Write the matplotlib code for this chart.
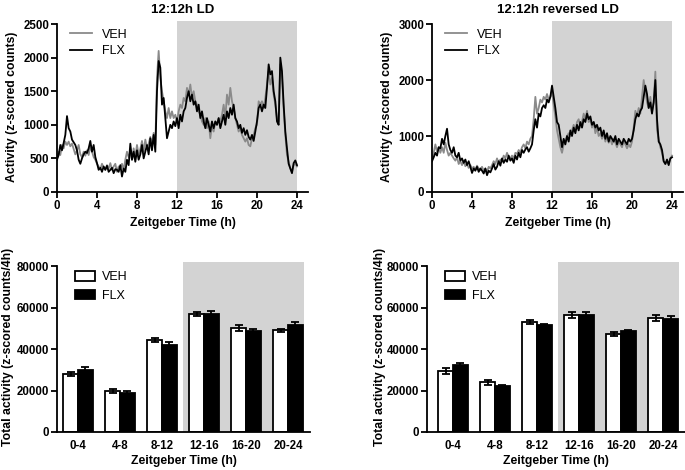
import numpy as np
import matplotlib.pyplot as plt

plt.rcParams['font.family'] = ['Liberation Sans', 'DejaVu Sans']

# time of day (h), 10-min bins
zt = np.arange(145) / 6.0

# 12:12h LD activity, one row per hour
ld_flx = [480, 550, 700, 620, 730, 850,
          1130, 950, 900, 780, 740, 700,
          620, 480, 420, 500, 560, 600,
          580, 650, 760, 600, 700, 520,
          430, 330, 360, 300, 380, 330,
          390, 300, 330, 360, 280, 340,
          330, 300, 400, 230, 350, 300,
          480, 400, 720, 480, 600, 450,
          620, 480, 560, 700, 500, 600,
          700, 560, 800, 620, 850, 600,
          1500, 1950, 1850, 1300, 1400, 1100,
          800, 900, 1000, 950, 1050, 980,
          1100, 950, 1150, 1050, 1200, 1250,
          1400, 1500, 1350, 1450, 1300, 1350,
          1200, 1300, 1100, 1200, 1050, 950,
          1100, 1000, 900, 1050, 950, 1050,
          1000, 1100, 950, 1050, 1150, 1000,
          1200, 1100, 1250, 1150, 1300, 1100,
          1050, 950, 1000, 880, 950, 850,
          920, 820, 780, 850, 760, 900,
          1050, 1250, 1300, 1200, 1300, 1250,
          1550, 1900, 1750, 1800, 1500, 1350,
          1050, 1000, 2000, 1800, 1300, 900,
          650, 420, 350, 280, 430, 470,
          400]
ld_veh = [500, 600, 550, 700, 650, 750,
          700, 750, 680, 720, 640, 560,
          620, 700, 560, 520, 600, 540,
          620, 550, 680, 600, 520, 480,
          420, 380, 340, 420, 360, 330,
          400, 350, 430, 330, 380, 420,
          300, 380, 350, 420, 330, 480,
          600, 520, 580, 480, 650, 520,
          700, 560, 640, 760, 600, 780,
          650, 720, 820, 700, 880, 700,
          1700, 2100, 1700, 1500, 1350, 1200,
          1100, 1250, 1100, 1200, 1100, 1150,
          1050, 1200, 1300, 1250, 1400, 1350,
          1550, 1450, 1600, 1400, 1500, 1350,
          1300, 1200, 1150, 1050, 1000, 1100,
          950, 1050, 800, 1000, 900, 1050,
          1000, 1100, 1050, 1150, 1300, 1100,
          1450, 1300, 1550, 1350, 1250, 1100,
          1000, 900, 950, 850, 800, 750,
          800, 700, 680, 800, 850, 950,
          1000, 1350, 1300, 1350, 1250, 1400,
          1600, 1800, 1600, 1700, 1450, 1300,
          1100, 1050, 1900, 1700, 1250, 850,
          550, 450, 350, 300, 400, 420,
          380]

# 12:12h reversed LD activity
rev_flx = [550, 620, 700, 650, 800, 780,
           950, 850, 1000, 1130, 850, 750,
           700, 800, 650, 620, 700, 560,
           600, 520, 580, 480, 550, 450,
           340, 420, 380, 450, 360, 420,
           380, 330, 420, 300, 380, 350,
           420, 500, 400, 450, 550, 470,
           600, 520, 580, 540, 650, 560,
           600, 520, 650, 580, 700, 620,
           750, 700, 760, 800, 720, 780,
           850, 1100, 1300, 1150, 1400, 1350,
           1500, 1550, 1500, 1650, 1600, 1700,
           1900, 1700, 1500, 1250, 1200, 1000,
           800, 950, 850, 1000, 900, 1100,
           1000, 1150, 1050, 1200, 1100, 1250,
           1150, 1300, 1250, 1400, 1300, 1350,
           1200, 1250, 1150, 1200, 1100, 1150,
           1000, 1100, 950, 1050, 900, 1000,
           950, 900, 1000, 850, 950, 900,
           850, 950, 900, 850, 950, 900,
           950, 1100, 1300, 1400, 1350, 1450,
           1500, 1700, 1900, 1750, 1500, 1600,
           1400, 1600, 2000, 1300, 900, 850,
           750, 550, 500, 580, 480, 600,
           620]
rev_veh = [600, 700, 850, 720, 800, 700,
           800, 700, 880, 750, 650, 700,
           650, 600, 560, 620, 500, 550,
           480, 550, 460, 500, 430, 480,
           420, 450, 400, 470, 420, 390,
           450, 380, 420, 360, 450, 420,
           480, 550, 500, 600, 520, 580,
           550, 650, 600, 700, 620, 600,
           650, 600, 700, 680, 750, 700,
           800, 850, 780, 900, 850, 950,
           1000, 1300, 1700, 1400, 1500, 1650,
           1600, 1700, 1650, 1750, 1650, 1700,
           1800, 1550, 1350, 1100, 950, 800,
           700, 850, 900, 1000, 1050, 1000,
           1100, 1200, 1100, 1250, 1300, 1150,
           1250, 1400, 1300, 1450, 1250, 1300,
           1150, 1250, 1050, 1150, 1000, 1050,
           950, 1050, 900, 1000, 880, 950,
           850, 950, 880, 800, 900, 850,
           800, 900, 850, 780, 850, 800,
           900, 1150, 1450, 1350, 1500, 1400,
           1700, 2000, 1800, 1600, 1500, 1700,
           1450, 1600, 2150, 1100, 950, 800,
           700, 550, 500, 550, 500, 600,
           650]

# totals per 4 h bin
bins = ['0-4', '4-8', '8-12', '12-16', '16-20', '20-24']
ld_veh_tot = [28000, 19700, 44200, 57000, 50000, 49000]
ld_veh_err = [1000, 1000, 1000, 1000, 1500, 900]
ld_flx_tot = [30000, 19000, 42000, 57000, 48800, 51800]
ld_flx_err = [1400, 600, 1200, 1200, 800, 1300]
rev_veh_tot = [29500, 23900, 53200, 56500, 47300, 54800]
rev_veh_err = [1400, 1000, 1000, 1600, 1000, 1500]
rev_flx_tot = [32500, 22300, 51400, 56500, 48500, 54700]
rev_flx_err = [900, 600, 900, 1200, 600, 1300]

SHADE = '#d3d3d3'
GRAY = '#8a8a8a'


def style_axes(ax, label_x):
    for s in ['top', 'right']:
        ax.spines[s].set_visible(False)
    for s in ['left', 'bottom']:
        ax.spines[s].set_linewidth(1.3)
    ax.tick_params(direction='out', length=4, width=1.3, labelsize=8.3, pad=1.5)
    for lab in ax.get_xticklabels() + ax.get_yticklabels():
        lab.set_fontweight('bold')
    ax.yaxis.set_label_coords(label_x, 0.5)


def line_panel(ax, veh, flx, ymax, ystep, title, label_x):
    ax.axvspan(12, 24, color=SHADE, lw=0, zorder=0)
    ax.plot(zt, veh, color=GRAY, lw=1.3, label='VEH', zorder=2)
    ax.plot(zt, flx, color='black', lw=1.3, label='FLX', zorder=3)
    ax.set_xlim(0, 25.1)
    ax.set_ylim(0, ymax * 1.018)
    ax.spines['left'].set_bounds(0, ymax)
    ax.set_xticks(range(0, 25, 4))
    ax.set_yticks(range(0, ymax + 1, ystep))
    ax.set_xlabel('Zeitgeber Time (h)', fontsize=8.8, fontweight='bold', labelpad=4)
    ax.set_ylabel('Activity (z-scored counts)', fontsize=8.8, fontweight='bold')
    ax.set_title(title, fontsize=9.5, fontweight='bold', pad=6)
    ax.legend(loc='upper left', bbox_to_anchor=(0.02, 1.0), frameon=False, fontsize=9,
              handlelength=1.8, handletextpad=0.8, labelspacing=0.35, borderaxespad=0.2)
    style_axes(ax, label_x)


def bar_panel(ax, veh, veh_err, flx, flx_err, xleft, label_x):
    x = np.arange(len(bins))
    w = 0.35
    ax.axvspan(2.5, 5.38, ymax=1.0, color=SHADE, lw=0, zorder=0)
    ekw = dict(ecolor='black', elinewidth=1.3, capsize=3, capthick=1.3)
    ax.bar(x - w / 2, veh, w, yerr=veh_err, color='white', edgecolor='black', lw=1.3,
           label='VEH', error_kw=ekw, zorder=2)
    ax.bar(x + w / 2, flx, w, yerr=flx_err, color='black', edgecolor='black', lw=1.3,
           label='FLX', error_kw=ekw, zorder=2)
    ax.set_xlim(xleft, 5.52)
    ax.set_ylim(0, 82000)
    ax.spines['left'].set_bounds(0, 80000)
    ax.set_xticks(x)
    ax.set_xticklabels(bins)
    ax.set_yticks(range(0, 80001, 20000))
    ax.set_xlabel('Zeitgeber Time (h)', fontsize=8.8, fontweight='bold', labelpad=2)
    ax.set_ylabel('Total activity (z-scored counts/4h)', fontsize=8.8, fontweight='bold')
    ax.legend(loc='upper left', bbox_to_anchor=(0.04, 0.99), frameon=False, fontsize=9,
              handlelength=1.6, handleheight=0.8, handletextpad=0.6, labelspacing=0.5,
              borderaxespad=0.2)
    style_axes(ax, label_x)
    ax.tick_params(axis='x', length=0, pad=6)


fig = plt.figure(figsize=(6.85, 4.70), dpi=100)
ax1 = fig.add_axes([0.0832, 0.5915, 0.3664, 0.3638])
ax2 = fig.add_axes([0.6307, 0.5915, 0.3664, 0.3638])
ax3 = fig.add_axes([0.0832, 0.0809, 0.3693, 0.3617])
ax4 = fig.add_axes([0.6234, 0.0809, 0.3766, 0.3617])

line_panel(ax1, ld_veh, ld_flx, 2500, 500, '12:12h LD', -0.155)
line_panel(ax2, rev_veh, rev_flx, 3000, 1000, '12:12h reversed LD', -0.155)
bar_panel(ax3, ld_veh_tot, ld_veh_err, ld_flx_tot, ld_flx_err, -0.5, -0.17)
bar_panel(ax4, rev_veh_tot, rev_veh_err, rev_flx_tot, rev_flx_err, -0.62, -0.16)

fig.savefig('out.png', dpi=100)
